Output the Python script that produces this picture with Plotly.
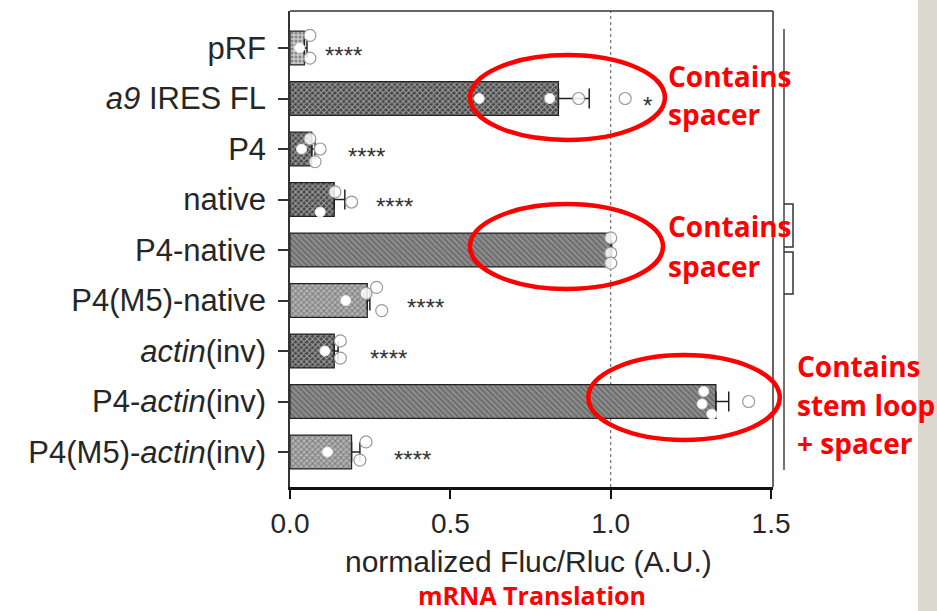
import plotly.graph_objects as go

# ---------------- data ----------------
categories = ["pRF", "<i>a9</i> IRES FL", "P4", "native", "P4-native",
              "P4(M5)-native", "<i>actin</i>(inv)", "P4-<i>actin</i>(inv)",
              "P4(M5)-<i>actin</i>(inv)"]
means = [0.045, 0.837, 0.068, 0.138, 1.0, 0.241, 0.138, 1.328, 0.192]
errors = [0.008, 0.096, 0.010, 0.033, 0.003, 0.008, 0.012, 0.040, 0.026]

# individual replicates: (category index, value, vertical jitter)
white_cat = [0, 1, 1, 2, 3, 5, 6, 7, 7, 7, 8]
white_val = [0.030, 0.590, 0.810, 0.036, 0.094, 0.174, 0.109, 1.290, 1.285, 1.315, 0.117]
white_jit = [0.0, 0.0, 0.0, 0.0, 0.25, 0.0, 0.0, -0.2, 0.05, 0.25, 0.0]

open_cat = [0, 0, 1, 1, 2, 2, 2, 3, 3, 4, 4, 4, 5, 5, 5, 6, 6, 7, 8, 8]
open_val = [0.062, 0.062, 0.900, 1.045, 0.062, 0.094, 0.078, 0.140, 0.192,
            1.0, 1.0, 1.0, 0.270, 0.237, 0.286, 0.157, 0.157, 1.430, 0.237, 0.218]
open_jit = [-0.25, 0.2, 0.0, 0.0, -0.2, 0.0, 0.25, -0.15, 0.05,
            -0.24, 0.06, 0.26, -0.26, -0.14, 0.2, -0.2, 0.14, 0.0, -0.2, 0.16]

sig_cat = [0, 1, 2, 3, 5, 6, 8]
sig_x = [0.168, 1.116, 0.237, 0.327, 0.424, 0.306, 0.383]
sig_txt = ["****", "*", "****", "****", "****", "****", "****"]

xticks = [0.0, 0.5, 1.0, 1.5]
xtick_text = ["0.0", "0.5", "1.0", "1.5"]

# bar styles per category
bar_colors = ["#c9c9c9", "#474747", "#474747", "#474747", "#8e8e8e",
              "#b4b4b4", "#474747", "#8e8e8e", "#b4b4b4"]
bar_fg = ["#888888", "#1a1a1a", "#1a1a1a", "#1a1a1a", "#4a4a4a",
          "#7a7a7a", "#1a1a1a", "#4a4a4a", "#7a7a7a"]
bar_shape = [".", "x", "x", "x", "\\", "x", "x", "\\", "x"]

# ---------------- geometry helpers ----------------
W, H = 937, 611
L, R, T, B = 290, 164, 11, 124
XR = [0, 1.506]
YR = [8.693, -0.733]
pw, ph = W - L - R, H - T - B


def xp(v):  # data x -> paper
    return (v - XR[0]) / (XR[1] - XR[0])


def yp(c):  # category position -> paper
    return (c - YR[0]) / (YR[1] - YR[0])


def px_x(p):  # pixel -> paper
    return (p - L) / pw


def px_y(p):
    return (H - B - p) / ph


TXT = "#262626"
FONT = "Liberation Sans, Arial, sans-serif"
RED = "#ff0000"
RFONT = "Open Sans, sans-serif"

fig = go.Figure()

fig.add_trace(go.Bar(
    x=means, y=list(range(len(categories))), orientation="h", width=0.67,
    marker=dict(color=bar_colors, line=dict(color="#222222", width=1.2),
                pattern=dict(shape=bar_shape, fgcolor=bar_fg, size=4,
                             solidity=0.45, fillmode="overlay")),
    error_x=dict(type="data", array=errors, arrayminus=[0] * len(errors),
                 symmetric=False, color="#222222", thickness=1.5, width=10),
    showlegend=False))

fig.add_trace(go.Scatter(
    x=open_val, y=[c + j for c, j in zip(open_cat, open_jit)], mode="markers",
    marker=dict(symbol="circle", size=12, color="rgba(255,255,255,0.85)",
                line=dict(color="#999999", width=1.2)),
    showlegend=False))

fig.add_trace(go.Scatter(
    x=white_val, y=[c + j for c, j in zip(white_cat, white_jit)], mode="markers",
    marker=dict(symbol="circle", size=10, color="white",
                line=dict(color="#e8e8e8", width=1)),
    showlegend=False))

# significance stars
for c, x, t in zip(sig_cat, sig_x, sig_txt):
    fig.add_annotation(x=x, y=c, text=t, showarrow=False, xref="x", yref="y",
                       font=dict(family=FONT, size=24, color="#333333"),
                       yshift=-7)

shapes = []
# dotted reference line at 1.0
shapes.append(dict(type="line", xref="x", yref="paper", x0=1.0, x1=1.0, y0=0, y1=1,
                   line=dict(color="#555555", width=1, dash="dot"), layer="below"))
# frame top/right
shapes.append(dict(type="line", xref="paper", yref="paper", x0=0, x1=1, y0=1, y1=1,
                   line=dict(color="#333333", width=1.5)))
shapes.append(dict(type="line", xref="paper", yref="paper", x0=1, x1=1, y0=0, y1=1,
                   line=dict(color="#333333", width=1.5)))
# right-side brackets
bx = px_x(784)
bx2 = px_x(793)
shapes.append(dict(type="line", xref="paper", yref="paper", x0=bx, x1=bx,
                   y0=px_y(29), y1=px_y(470), line=dict(color="#444444", width=1.5)))
for ya, yb in [(204, 247), (252, 294)]:
    shapes.append(dict(type="path", xref="paper", yref="paper",
                       path=f"M {bx},{px_y(ya)} L {bx2},{px_y(ya)} L {bx2},{px_y(yb)} L {bx},{px_y(yb)}",
                       line=dict(color="#333333", width=1.5)))
# gray strip on the right
shapes.append(dict(type="rect", xref="paper", yref="paper", x0=px_x(918), x1=px_x(H + 400),
                   y0=px_y(H + 5), y1=px_y(-5), fillcolor="#dbd9ce", line=dict(width=0),
                   layer="below"))
# red ellipses (data units -> paper so they are not clipped)
ellipses = [(0.561, 1.169, 0.14, 1.82), (0.561, 1.163, 3.09, 4.77), (0.93, 1.527, 6.08, 7.76)]
for x0, x1, y0, y1 in ellipses:
    shapes.append(dict(type="circle", xref="paper", yref="paper",
                       x0=xp(x0), x1=xp(x1), y0=yp(y1), y1=yp(y0),
                       line=dict(color=RED, width=4.5)))

fig.update_layout(shapes=shapes)

# red notes
notes = [(666, 76, "Contains"), (666, 114, "spacer"),
         (666, 226, "Contains"), (666, 266, "spacer"),
         (795, 366, "Contains"), (795, 405, "stem loop"), (795, 443, "+ spacer")]
for x, y, t in notes:
    fig.add_annotation(x=px_x(x), y=px_y(y), xref="paper", yref="paper", text=f"<b>{t}</b>",
                       showarrow=False, xanchor="left", yanchor="middle",
                       font=dict(family=RFONT, size=28, color=RED))
fig.add_annotation(x=px_x(532), y=px_y(595), xref="paper", yref="paper",
                   text="<b>mRNA Translation</b>", showarrow=False,
                   xanchor="center", yanchor="middle", borderpad=0,
                   font=dict(family=RFONT, size=25, color=RED))
fig.add_annotation(x=px_x(528), y=px_y(561), xref="paper", yref="paper",
                   text="normalized Fluc/Rluc (A.U.)", showarrow=False,
                   xanchor="center", yanchor="middle", borderpad=0,
                   font=dict(family=FONT, size=30, color=TXT))

fig.update_layout(
    width=W, height=H, margin=dict(l=L, r=R, t=T, b=B),
    paper_bgcolor="white", plot_bgcolor="white",
    xaxis=dict(range=XR, tickvals=xticks, ticktext=xtick_text, showgrid=False,
               zeroline=False, showline=True, linecolor="#111111", linewidth=3,
               ticks="outside", ticklen=9, tickwidth=1.5, tickcolor="#111111",
               tickfont=dict(family=FONT, size=28, color=TXT)),
    yaxis=dict(range=YR, tickvals=list(range(len(categories))), ticktext=categories,
               showgrid=False, zeroline=False, showline=True, linecolor="#333333",
               linewidth=1.5, ticks="outside", ticklen=10, tickwidth=1.5,
               tickcolor="#333333", ticklabelstandoff=6,
               tickfont=dict(family=FONT, size=31, color=TXT)),
    bargap=0.3,
)

fig.write_html("out.html")
